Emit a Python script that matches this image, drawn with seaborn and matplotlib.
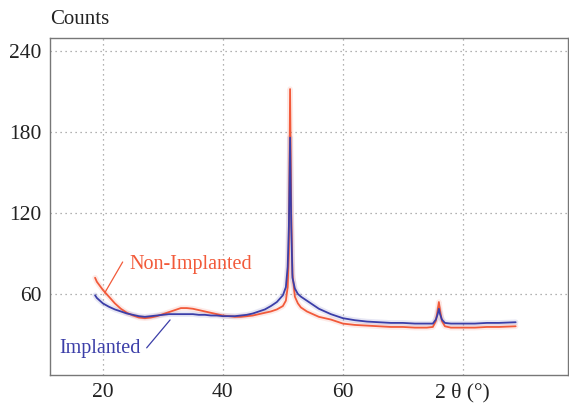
"""XRD pattern: implanted vs non-implanted sample."""

import matplotlib.pyplot as plt
import pandas as pd
import seaborn as sns

# 2-theta positions (deg)
two_theta = [
  18.7, 19, 20, 21, 22, 23, 24, 25, 26, 27, 28, 29, 30, 31, 32, 33, 34, 35,
  36, 37, 38, 39, 40, 41, 42, 43, 44, 45, 46, 47, 48, 49, 50, 50.5, 50.8,
  51.0, 51.2, 51.4, 51.6, 52, 52.5, 53, 54, 55, 56, 57, 58, 60, 62, 64, 66,
  68, 70, 72, 74, 75, 75.5, 75.8, 76, 76.2, 76.5, 77, 78, 80, 82, 84, 86, 88.8,
]
non_implanted = [
  72, 69, 63, 58, 53, 49, 46, 44, 42.5, 42, 42.5, 43.5, 45, 46.5, 48, 49.5,
  49.5, 49, 48, 47, 46, 45, 44, 43.5, 43, 43, 43.5, 44, 45, 46, 47, 48.5,
  51, 55, 65, 90, 212, 120, 75, 58, 53, 50, 47, 45, 43, 42, 41, 38, 37,
  36.5, 36, 35.5, 35.5, 35, 35, 35.5, 40, 48, 54, 48, 40, 36, 35, 35, 35,
  35.5, 35.5, 36,
]
implanted = [
  59, 57, 53, 50.5, 48.5, 47, 45.5, 44.5, 43.5, 43, 43.5, 44, 44.5, 45, 45,
  45, 45, 45, 44.5, 44.5, 44, 44, 43.5, 43.5, 43.5, 44, 44.5, 45.5, 47,
  48.5, 51, 54, 59, 65, 80, 110, 176, 110, 72, 64, 60, 58, 55, 52, 49, 47,
  45, 42, 40.5, 39.5, 39, 38.5, 38.5, 38, 38, 38, 41, 45, 49, 45, 41, 38.5,
  38, 38, 38, 38.5, 38.5, 39,
]

x_ticks = [20, 40, 60, 80]
x_tick_labels = ["20", "40", "60", "2 θ (°)"]
y_ticks = [60, 120, 180, 240]

RED = "#f25a3a"
BLUE = "#3b3ea8"

df = pd.concat([
  pd.DataFrame({"theta": two_theta, "counts": non_implanted, "sample": "Non-Implanted"}),
  pd.DataFrame({"theta": two_theta, "counts": implanted, "sample": "Implanted"}),
])
palette = {"Non-Implanted": RED, "Implanted": BLUE}

sns.set_style("white")
plt.rcParams["font.family"] = ["Liberation Serif", "DejaVu Serif"]

fig = plt.figure(figsize=(5.69, 4.03), dpi=100)
ax = fig.add_axes([0.088, 0.07, 0.910, 0.836])

# faint halo under the traces
sns.lineplot(data=df, x="theta", y="counts", hue="sample", palette=palette,
             linewidth=4, alpha=0.12, legend=False, ax=ax, sort=False)
sns.lineplot(data=df, x="theta", y="counts", hue="sample", palette=palette,
             linewidth=1.3, legend=False, ax=ax, sort=False)

ax.set_xlim(11.2, 97.5)
ax.set_ylim(0, 250)
ax.set_xticks(x_ticks)
ax.set_xticklabels(x_tick_labels)
ax.set_yticks(y_ticks)
ax.set_xlabel("")
ax.set_ylabel("")
ax.tick_params(length=0, labelsize=15.5, colors="#222222", pad=6)
ax.grid(True, linestyle=(0, (1, 3)), color="#999999", linewidth=0.9)
for side in ax.spines.values():
  side.set_color("#777777")
  side.set_linewidth(1.0)

fig.text(0.088, 0.952, "Counts", fontsize=15, color="#222222", ha="left", va="center")

ax.plot([23.3, 20.3], [83.7, 60.7], color=RED, linewidth=0.9)
ax.text(24.5, 81.5, "Non-Implanted", color=RED, fontsize=14.5, ha="left", va="center")
ax.plot([27.3, 31.2], [20, 40.7], color=BLUE, linewidth=0.9)
ax.text(26.3, 19.3, "Implanted", color=BLUE, fontsize=14.5, ha="right", va="center")

fig.savefig("out.png", dpi=100)
plt.close(fig)
